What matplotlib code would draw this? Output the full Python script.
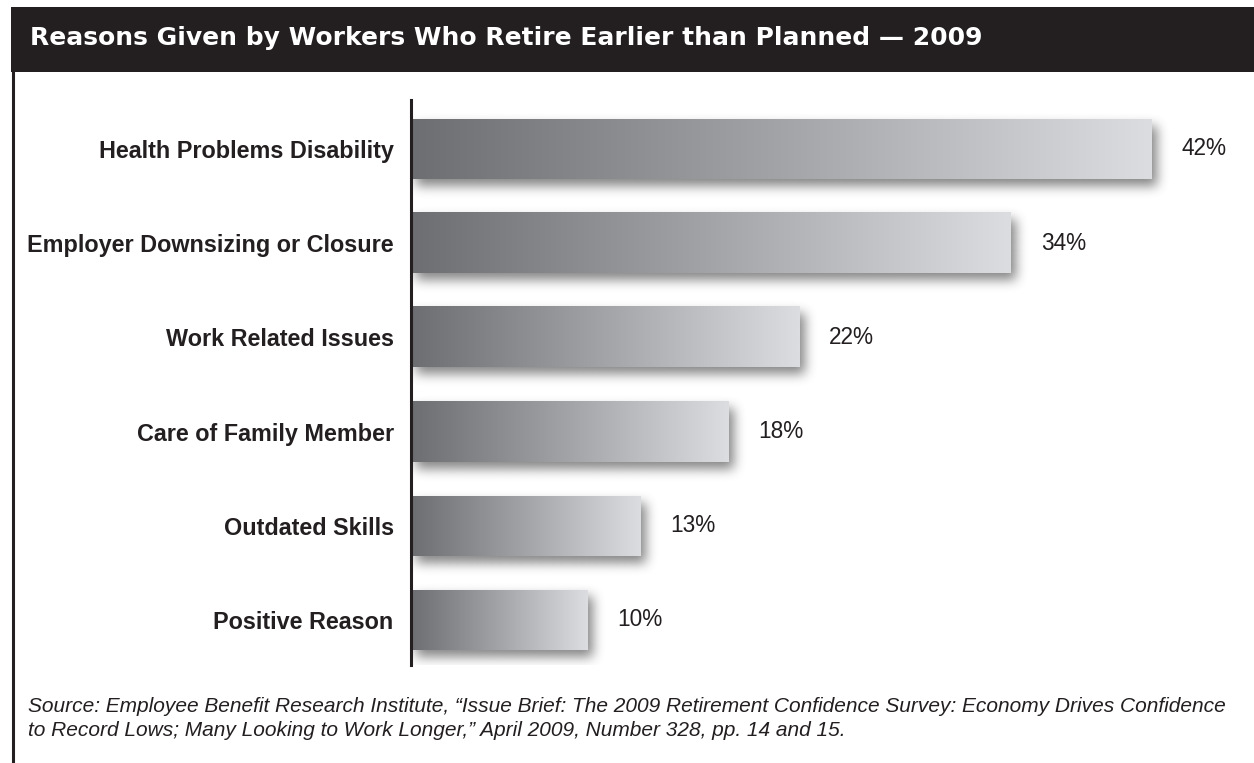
import numpy as np
import matplotlib.pyplot as plt
from matplotlib.patches import Rectangle
from matplotlib.colors import LinearSegmentedColormap

# Survey results: share of early retirees citing each reason
reasons = ['Health Problems Disability', 'Employer Downsizing or Closure',
           'Work Related Issues', 'Care of Family Member',
           'Outdated Skills', 'Positive Reason']
shares = [42, 34, 22, 18, 13, 10]

title = 'Reasons Given by Workers Who Retire Earlier than Planned \u2014 2009'
source_lines = ['Source: Employee Benefit Research Institute, \u201cIssue Brief: The 2009 Retirement '
                'Confidence Survey: Economy Drives Confidence',
                'to Record Lows; Many Looking to Work Longer,\u201d April 2009, Number 328, pp. 14 and 15.']

plt.rcParams['font.family'] = ['Liberation Sans', 'DejaVu Sans']

W, H = 1254, 763
fig = plt.figure(figsize=(W / 100, H / 100), dpi=100)

# background layer in pixel coordinates for the title bar and frame line
bg = fig.add_axes([0, 0, 1, 1])
bg.set_xlim(0, W)
bg.set_ylim(H, 0)
bg.axis('off')
bg.add_patch(Rectangle((11, 7), W - 11, 65, color='#231f20', lw=0))
bg.plot([13, 13], [70, H], color='#231f20', lw=2.2, solid_capstyle='butt')
bg.text(30, 38, title, color='white', fontsize=18, fontweight='bold',
        family='DejaVu Sans', va='center', ha='left')
for j, line in enumerate(source_lines):
    bg.text(28, 706 + 25 * j, line, fontsize=15, style='italic', color='#231f20',
            va='center', ha='left')

# bar axes: 1% = ~17.6 px, one category = ~94 px
ax = fig.add_axes([411 / W, 1 - 665 / H, 829 / W, 565 / H])
ax.set_xlim(0, 47)
ax.set_ylim(5.478, -0.52)
for s in ['top', 'right', 'bottom']:
    ax.spines[s].set_visible(False)
ax.spines['left'].set_linewidth(2.2)
ax.spines['left'].set_color('#231f20')
ax.spines['left'].set_zorder(5)
ax.set_xticks([])
ax.set_yticks(range(len(reasons)))
ax.set_yticklabels(reasons, fontsize=16.85, fontweight='bold', color='#231f20')
ax.tick_params(axis='y', length=0, pad=12.5)

px_x = 47 / 829
px_y = 5.998 / 565
bar_h = 60 * px_y

cmap = LinearSegmentedColormap.from_list('bar', ['#6d6e72', '#a3a4a8', '#dcdde0'])
grad = np.linspace(0, 1, 256).reshape(1, -1)


def box_blur(a, r, passes=3):
    k = np.ones(2 * r + 1) / (2 * r + 1)
    for _ in range(passes):
        a = np.apply_along_axis(lambda m: np.convolve(m, k, mode='same'), 0, a)
        a = np.apply_along_axis(lambda m: np.convolve(m, k, mode='same'), 1, a)
    return a


margin, dx, dy = 28, 5, 7
for i, v in enumerate(shares):
    # soft drop shadow below and to the right of each bar
    bw = int(round(v / px_x))
    mask = np.zeros((60 + 2 * margin, bw + 2 * margin))
    mask[margin + dy:margin + dy + 60, margin + dx:margin + dx + bw] = 1.0
    mask = box_blur(mask, 5)
    shadow = np.zeros(mask.shape + (4,))
    shadow[..., :3] = 0.2
    shadow[..., 3] = mask * 0.6
    ax.imshow(shadow, aspect='auto', zorder=1, interpolation='bilinear',
              extent=(-margin * px_x, v + margin * px_x,
                      i + bar_h / 2 + margin * px_y, i - bar_h / 2 - margin * px_y))
    ax.imshow(grad, cmap=cmap, aspect='auto', zorder=2,
              extent=(0, v, i + bar_h / 2, i - bar_h / 2))
    ax.text(v + 30 * px_x, i, f'{v}%', fontsize=16.3, color='#231f20',
            va='center', ha='left')

ax.set_xlim(0, 47)
ax.set_ylim(5.478, -0.52)

fig.savefig('out.png', dpi=100)
